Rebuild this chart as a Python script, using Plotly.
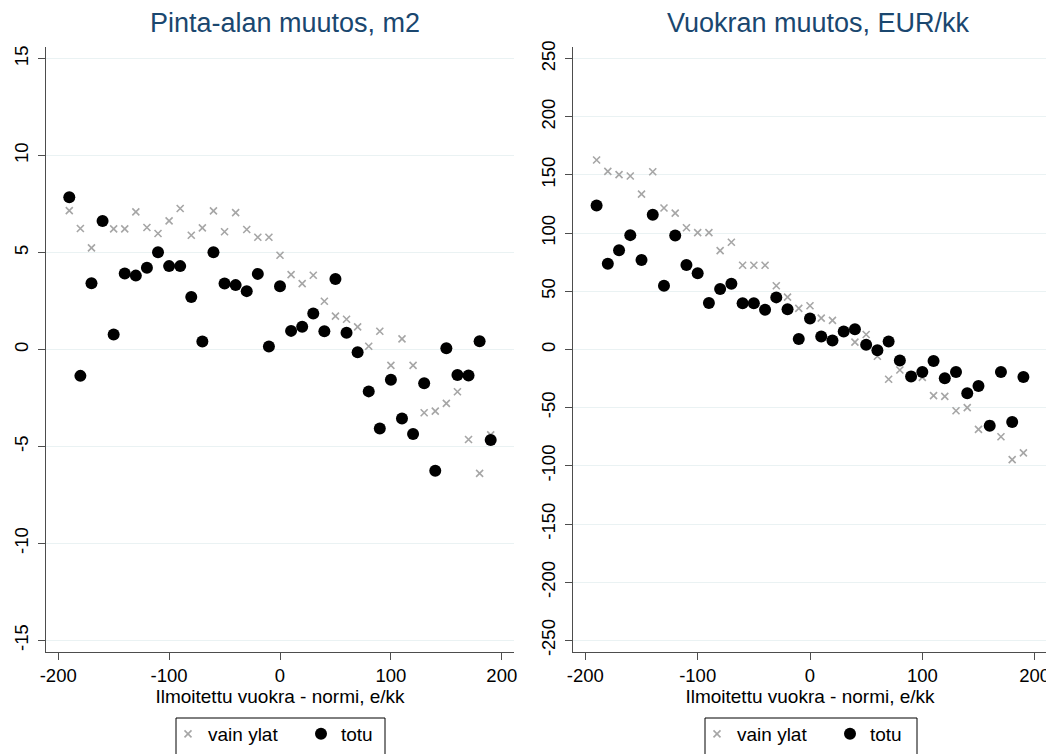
import plotly.graph_objects as go

# x positions (Ilmoitettu vuokra - normi, e/kk)
x_vals = [-190, -180, -170, -160, -150, -140, -130, -120, -110, -100,
          -90, -80, -70, -60, -50, -40, -30, -20, -10, 0,
          10, 20, 30, 40, 50, 60, 70, 80, 90, 100,
          110, 120, 130, 140, 150, 160, 170, 180, 190]

# Left panel: Pinta-alan muutos, m2
area_vain_ylat = [7.16, 6.24, 5.24, 6.6, 6.22, 6.22, 7.10, 6.29, 5.98, 6.63,
                  7.27, 5.89, 6.27, 7.15, 6.07, 7.06, 6.19, 5.79, 5.79, 4.86,
                  3.86, 3.40, 3.83, 2.49, 1.72, 1.56, 1.17, 0.17, 0.94, -0.82,
                  0.55, -0.82, -3.26, -3.18, -2.78, -2.18, -4.64, -6.39, -4.4]
area_totu = [7.85, -1.36, 3.42, 6.63, 0.77, 3.92, 3.81, 4.21, 5.02, 4.30,
             4.30, 2.71, 0.41, 5.02, 3.40, 3.32, 3.01, 3.90, 0.15, 3.26,
             0.96, 1.17, 1.86, 0.94, 3.64, 0.86, -0.14, -2.16, -4.07, -1.56,
             -3.56, -4.36, -1.74, -6.25, 0.07, -1.31, -1.34, 0.43, -4.67]

# Right panel: Vuokran muutos, EUR/kk
rent_vain_ylat = [162.9, 153.1, 150.3, 149.1, 133.6, 152.8, 121.6, 117.2, 104.6, 100.5,
                  100.5, 85.0, 92.2, 72.4, 72.4, 72.4, 54.8, 45.0, 35.3, 37.6,
                  27.0, 25.0, 15.0, 6.3, 12.9, -5.8, -25.6, -17.6, -22.0, -24.0,
                  -39.7, -40.3, -52.6, -50.0, -68.7, -64.0, -75.0, -94.6, -88.8]
rent_totu = [123.8, 73.8, 85.3, 98.3, 77.0, 115.8, 54.8, 98.0, 72.7, 65.5,
             39.9, 52.0, 56.6, 39.7, 39.7, 34.1, 44.8, 34.6, 9.0, 26.7,
             11.2, 7.8, 15.5, 17.5, 4.0, -0.6, 6.9, -9.5, -23.3, -19.3,
             -9.8, -24.7, -19.3, -37.7, -31.4, -65.5, -19.3, -62.4, -23.6]

x_ticks = [-200, -100, 0, 100, 200]
left_ticks = [-15, -10, -5, 0, 5, 10, 15]
right_ticks = [-250, -200, -150, -100, -50, 0, 50, 100, 150, 200, 250]

titles = ["Pinta-alan muutos, m2", "Vuokran muutos, EUR/kk"]
x_title = "Ilmoitettu vuokra - normi, e/kk"
legend_names = ["vain ylat", "totu"]

# page body adds an 8px offset; figure is sized to fill the rest of the window
OFF = 8
W, H = 1054 - OFF, 754 - OFF
FONT = "Liberation Sans, Arial, sans-serif"
CROSS_COLOR = "#a6a6a6"
TITLE_COLOR = "#1a476f"
GRID = "#eaf2f3"
AX = "#4d4d4d"


def fx(px):
    return (px - OFF) / W


def fy(py):
    return 1 - (py - OFF) / H


def labels(vals):
    return [str(v) for v in vals]  # ASCII hyphen minus, as in the reference


fig = go.Figure()

panels = [
    dict(xa="x", ya="y", ylist=(area_vain_ylat, area_totu), legend="legend"),
    dict(xa="x2", ya="y2", ylist=(rent_vain_ylat, rent_totu), legend="legend2"),
]
for p in panels:
    fig.add_trace(go.Scatter(
        x=x_vals, y=p["ylist"][0], mode="markers", name=legend_names[0],
        xaxis=p["xa"], yaxis=p["ya"], legend=p["legend"],
        marker=dict(symbol="x-thin", size=7, line=dict(width=1.6, color=CROSS_COLOR),
                    color=CROSS_COLOR)))
    fig.add_trace(go.Scatter(
        x=x_vals, y=p["ylist"][1], mode="markers", name=legend_names[1],
        xaxis=p["xa"], yaxis=p["ya"], legend=p["legend"],
        marker=dict(symbol="circle", size=12, color="black")))

ydom = [fy(652), fy(47)]
TICKFONT = dict(family=FONT, size=18.5, color="black")
common_x = dict(range=[-211, 211], tickvals=x_ticks, ticktext=labels(x_ticks),
                showgrid=False, zeroline=False,
                showline=True, linecolor=AX, linewidth=1.2, ticks="outside",
                ticklen=7, tickcolor=AX, tickfont=TICKFONT,
                title=dict(text=x_title, font=dict(family=FONT, size=19, color="black"),
                           standoff=2))
common_y = dict(showgrid=True, gridcolor=GRID, gridwidth=1.2, zeroline=False,
                showline=True, linecolor=AX, linewidth=1.2, ticks="outside",
                ticklen=7, tickcolor=AX, tickangle=-90, tickfont=TICKFONT,
                ticklabelstandoff=3, domain=ydom)

LEGFONT = dict(family=FONT, size=19, color="black")
leg_common = dict(orientation="h", xanchor="left", y=fy(715), yanchor="top",
                  borderwidth=0, bgcolor="rgba(0,0,0,0)", font=LEGFONT, entrywidth=88)

box_style = dict(type="rect", xref="paper", yref="paper",
                 line=dict(color="black", width=1), fillcolor="rgba(0,0,0,0)", layer="above")

fig.update_layout(
    width=W, height=H, margin=dict(l=0, r=0, t=0, b=0, autoexpand=False),
    paper_bgcolor="white", plot_bgcolor="white",
    xaxis=dict(domain=[fx(46), fx(514)], anchor="y", **common_x),
    yaxis=dict(range=[-15.6, 15.6], tickvals=left_ticks, ticktext=labels(left_ticks),
               anchor="x", **common_y),
    xaxis2=dict(domain=[fx(573), fx(1047)], anchor="y2", **common_x),
    yaxis2=dict(range=[-260, 260], tickvals=right_ticks, ticktext=labels(right_ticks),
                anchor="x2", **common_y),
    legend=dict(x=fx(168), **leg_common),
    legend2=dict(x=fx(697), **leg_common),
    showlegend=True,
    shapes=[
        dict(x0=fx(176), x1=fx(385), y0=fy(718), y1=fy(770), **box_style),
        dict(x0=fx(705), x1=fx(917), y0=fy(718), y1=fy(770), **box_style),
    ],
    annotations=[
        dict(text=titles[0], x=fx(285), y=fy(23), xref="paper", yref="paper",
             xanchor="center", yanchor="middle", showarrow=False,
             font=dict(family=FONT, size=27, color=TITLE_COLOR)),
        dict(text=titles[1], x=fx(818), y=fy(23), xref="paper", yref="paper",
             xanchor="center", yanchor="middle", showarrow=False,
             font=dict(family=FONT, size=27, color=TITLE_COLOR)),
    ],
)

fig.write_html("out.html")
